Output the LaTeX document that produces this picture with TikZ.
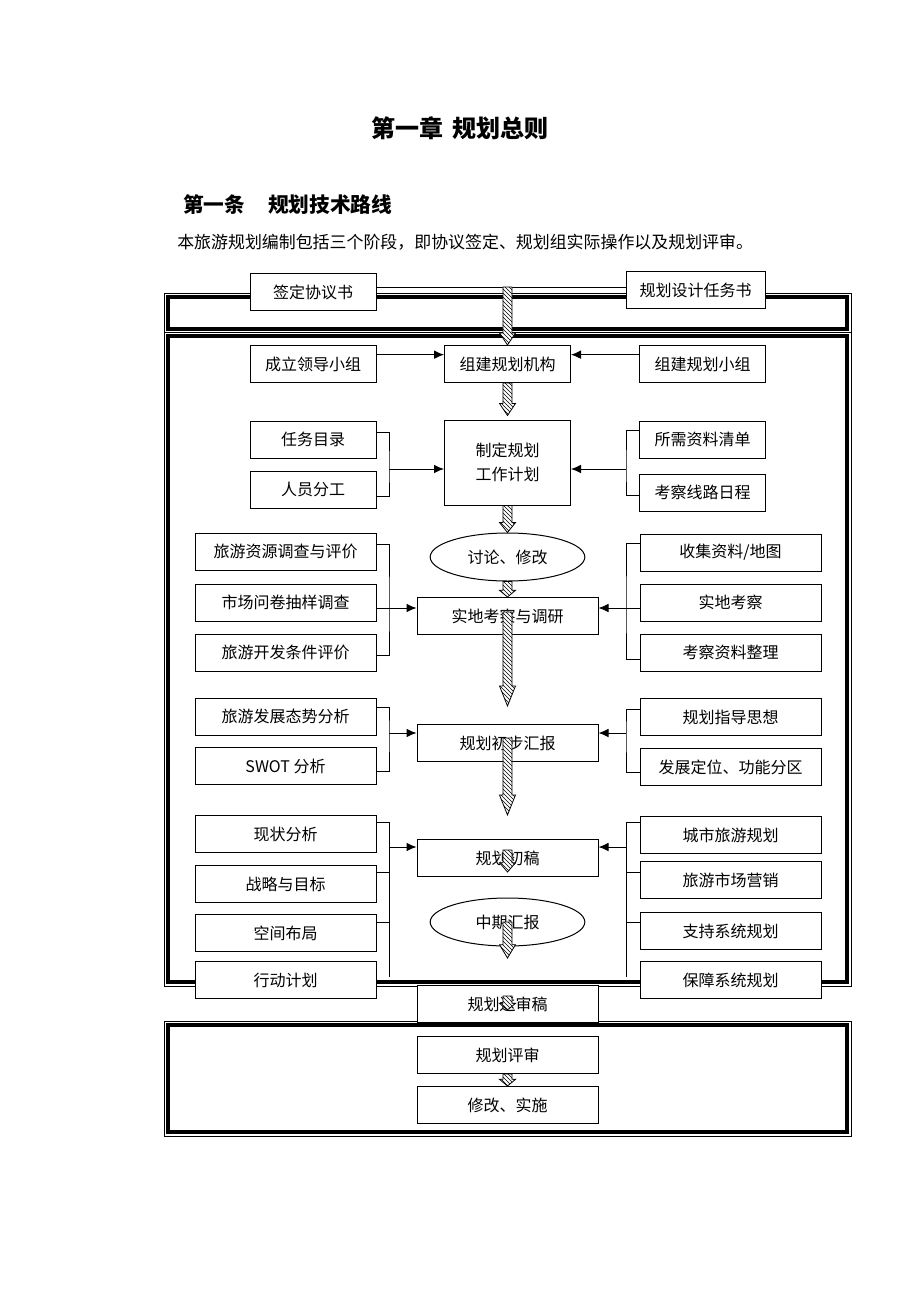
\documentclass[tikz,border=0pt]{standalone}
\usepackage{fontspec}
\setmainfont{Noto Sans CJK SC}
\usepackage{tikz}
\usetikzlibrary{arrows}
\usetikzlibrary{arrows.meta}
\usetikzlibrary{calc}
\usetikzlibrary{patterns}
\usetikzlibrary{shapes.geometric}

% hatched block arrow: start, tip, head length
\newcommand{\hatcharrow}[3]{%
  \path let \p1=(#1), \p2=(#2) in [hatch]
    (\x1-3.4pt,\y1) -- (\x1+3.4pt,\y1) -- (\x1+3.4pt,\y2+#3) -- (\x1+6pt,\y2+#3)
    -- (\x1,\y2) -- (\x1-6pt,\y2+#3) -- (\x1-3.4pt,\y2+#3) -- cycle;}

\begin{document}
\begin{tikzpicture}[x=0.75pt,y=-0.75pt]
            \tikzstyle{box}=[rectangle,draw=black,line width=0.75pt,fill=white,minimum height=27.75pt,inner sep=0pt,font=\fontsize{12pt}{18.5pt}\selectfont]
            \tikzstyle{sbox}=[box,minimum width=94.5pt]
            \tikzstyle{wbox}=[box,minimum width=135.75pt]
            \tikzstyle{oval}=[ellipse,draw=black,line width=0.75pt,fill=white,minimum width=116pt,minimum height=36pt,inner sep=0pt,font=\fontsize{12pt}{14pt}\selectfont]
            \tikzstyle{edge}=[draw=black,line width=0.75pt,-]
            \tikzstyle{feed}=[edge,-{Latex[length=7.5pt,width=6.5pt]}]
            \tikzstyle{hatch}=[draw=black,line width=0.6pt,preaction={fill=white},pattern=north west lines]

            \def\ls{313}
            \def\lw{285.5}
            \def\cc{507.5}
            \def\rs{702.5}
            \def\rw{730.5}

            \useasboundingbox (0,0) rectangle (920,1302);

            \node[font=\fontsize{18pt}{21pt}\selectfont\bfseries] (title) at (460,128) {第一章\hspace{0.4em}规划总则};
            \node[anchor=west,inner sep=0pt,font=\fontsize{15.5pt}{18pt}\selectfont\bfseries] (sec) at (183,205) {第一条\hspace{1.1em}规划技术路线};
            \node[anchor=west,inner sep=0pt,font=\fontsize{12.7pt}{15pt}\selectfont] (intro) at (177,242) {本旅游规划编制包括三个阶段，即协议签定、规划组实际操作以及规划评审。};

            % frames
            \draw[line width=0.75pt] (164,293) rectangle (851,332);
            \draw[line width=2.3pt] (168,297) rectangle (847,329);
            \draw[line width=0.75pt] (164,332) rectangle (851,986);
            \draw[line width=2.3pt] (168,336) rectangle (847,982);
            \draw[line width=0.75pt] (164,1021) rectangle (851,1136);
            \draw[line width=2.3pt] (168,1025) rectangle (847,1132);

            \coordinate (jl2) at (389,469);
            \coordinate (jr2) at (626,469);
            \coordinate (jl3) at (389,608);
            \coordinate (jr3) at (626,608);
            \coordinate (jl4) at (389,733);
            \coordinate (jr4) at (626,733);
            \coordinate (jl5) at (389,847);
            \coordinate (jr5) at (626,847);
            \coordinate (el5) at (389,977);
            \coordinate (er5) at (626,977);

            \node[sbox] (sign)  at (\ls,292) {签定协议书};
            \node[box,minimum width=104.25pt] (brief) at (695.5,290) {规划设计任务书};

            \node[sbox] (lead)  at (\ls,364) {成立领导小组};
            \node[sbox] (org)   at (\cc,364) {组建规划机构};
            \node[sbox] (team)  at (\rs,364) {组建规划小组};

            \node[sbox] (task)  at (\ls,439.5) {任务目录};
            \node[sbox] (staff) at (\ls,489.5) {人员分工};
            \node[sbox,minimum height=63.75pt,align=center] (plan) at (\cc,462.5) {制定规划\\工作计划};
            \node[sbox] (need)  at (\rs,439.5) {所需资料清单};
            \node[sbox] (route) at (\rs,492.5) {考察线路日程};

            \node[wbox] (res)   at (\lw,551.5) {旅游资源调查与评价};
            \node[wbox] (mkt)   at (\lw,602.5) {市场问卷抽样调查};
            \node[wbox] (dev)   at (\lw,652.5) {旅游开发条件评价};
            \node[oval] (talk)  at (\cc,557) {讨论、修改};
            \node[wbox] (field) at (\cc,616) {实地考察与调研};
            \node[wbox] (maps)  at (\rw,552.5) {收集资料/地图};
            \node[wbox] (visit) at (\rw,602.5) {实地考察};
            \node[wbox] (sort)  at (\rw,652.5) {考察资料整理};

            \node[wbox] (trend) at (\lw,716.5) {旅游发展态势分析};
            \node[wbox] (swot)  at (\lw,766) {SWOT 分析};
            \node[wbox] (first) at (\cc,743) {规划初步汇报};
            \node[wbox] (idea)  at (\rw,717) {规划指导思想};
            \node[wbox] (zone)  at (\rw,767) {发展定位、功能分区};

            \node[wbox] (now)   at (\lw,834) {现状分析};
            \node[wbox] (goal)  at (\lw,884) {战略与目标};
            \node[wbox] (space) at (\lw,933) {空间布局};
            \node[wbox] (act)   at (\lw,980) {行动计划};
            \node[wbox] (draft) at (\cc,858) {规划初稿};
            \node[oval] (mid)   at (\cc,922) {中期汇报};
            \node[wbox] (city)  at (\rw,835) {城市旅游规划};
            \node[wbox] (sale)  at (\rw,880) {旅游市场营销};
            \node[wbox] (prop)  at (\rw,931) {支持系统规划};
            \node[wbox] (safe)  at (\rw,980) {保障系统规划};

            \node[wbox] (submit) at (\cc,1004) {规划送审稿};
            \node[wbox] (review) at (\cc,1055) {规划评审};
            \node[wbox] (fix)    at (\cc,1105) {修改、实施};

            \path[edge,line width=0.6pt] ([yshift=3.75pt]sign.east) -- ([yshift=3.75pt]sign.east -| brief.west);

            \path[feed] ([yshift=7pt]lead.east) -- ([yshift=7pt]org.west);
            \path[feed] ([yshift=7pt]team.west) -- ([yshift=7pt]org.east);

            \path[edge] ([yshift=4.9pt]task.east) -| (jl2) |- ([yshift=-5.6pt]staff.east);
            \path[feed] (jl2) -- (jl2 -| plan.west);
            \path[edge] ([yshift=6.4pt]need.west) -| (jr2) |- ([yshift=-1.9pt]route.west);
            \path[feed] (jr2) -- (jr2 -| plan.east);

            \path[edge] ([yshift=5.6pt]res.east) -| (jl3) |- ([yshift=-2.6pt]dev.east);
            \path[edge] (mkt.east |- jl3) -- (jl3);
            \path[feed] (jl3) -- (jl3 -| field.west);
            \path[edge] ([yshift=6.4pt]maps.west) -| (jr3) |- ([yshift=-4.9pt]sort.west);
            \path[edge] (visit.west |- jr3) -- (jr3);
            \path[feed] (jr3) -- (jr3 -| field.east);

            \path[edge] ([yshift=6.4pt]trend.east) -| (jl4) |- ([yshift=-3.75pt]swot.east);
            \path[feed] (jl4) -- (jl4 -| first.west);
            \path[edge] ([yshift=6pt]idea.west) -| (jr4) |- ([yshift=-3.75pt]zone.west);
            \path[feed] (jr4) -- (jr4 -| first.east);

            \path[edge] ([yshift=9pt]now.east) -| (el5);
            \path[edge] ([yshift=9pt]goal.east) -- ([yshift=9pt]goal.east -| el5);
            \path[edge] ([yshift=8.25pt]space.east) -- ([yshift=8.25pt]space.east -| el5);
            \path[feed] (jl5) -- (jl5 -| draft.west);
            \path[edge] ([yshift=9.75pt]city.west) -| (er5);
            \path[edge] ([yshift=6pt]sale.west) -- ([yshift=6pt]sale.west -| er5);
            \path[edge] ([yshift=6.75pt]prop.west) -- ([yshift=6.75pt]prop.west -| er5);
            \path[feed] (jr5) -- (jr5 -| draft.east);

            % hatched flow arrows
            \coordinate (a1s) at (\cc,287);
            \coordinate (a5s) at (\cc,612);
            \coordinate (a5t) at (\cc,706);
            \coordinate (a6s) at (\cc,738);
            \coordinate (a6t) at (\cc,815);
            \coordinate (a7s) at (\cc,850);
            \coordinate (a7t) at (\cc,872);
            \coordinate (a8s) at (\cc,922);
            \coordinate (a8t) at (\cc,958);
            \coordinate (a9s) at (\cc,996);
            \coordinate (a9t) at (\cc,1010);

            \hatcharrow{a1s}{org.north}{9pt}
            \hatcharrow{org.south}{[yshift=3pt]plan.north}{9pt}
            \hatcharrow{plan.south}{talk.north}{7.5pt}
            \hatcharrow{talk.south}{field.north}{5pt}
            \hatcharrow{a5s}{a5t}{15pt}
            \hatcharrow{a6s}{a6t}{15pt}
            \hatcharrow{a7s}{a7t}{7pt}
            \hatcharrow{a8s}{a8t}{10pt}
            \hatcharrow{a9s}{a9t}{5pt}
            \hatcharrow{review.south}{fix.north}{5pt}
        \end{tikzpicture}
\end{document}
